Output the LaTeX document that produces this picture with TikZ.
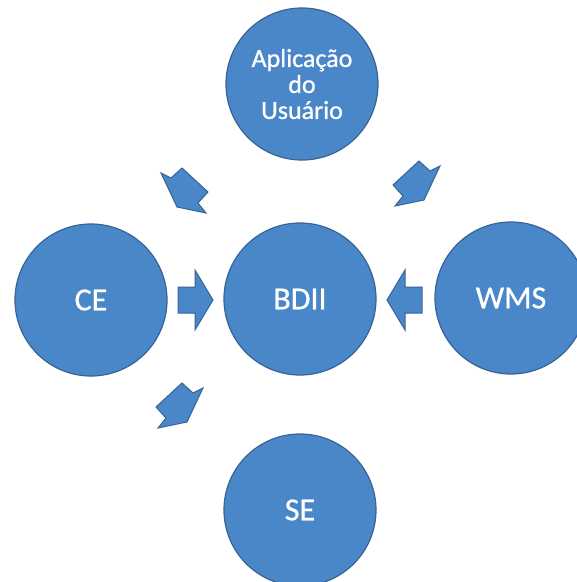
\documentclass[tikz,border=0pt]{standalone}
\usepackage{fontspec}
\setmainfont{Carlito}[FakeBold=0.8]
\newfontfamily\labelfont{Carlito}[FakeBold=0.8]
\definecolor{nodeblue}{RGB}{74,135,201}
\definecolor{edgeblue}{RGB}{56,99,148}
\begin{document}
\begin{tikzpicture}[x=1pt,y=1pt,
  service/.style={circle, draw=edgeblue, line width=1.2pt, fill=nodeblue,
    minimum size=152pt, inner sep=0pt, text=white,
    font=\labelfont\fontsize{32}{36}\selectfont},
  arrowbody/.style={draw=edgeblue, line width=1pt, fill=nodeblue, line join=miter},
  pics/dart/.style={code={
    \draw[arrowbody] (-10,5) -- (0,0) -- (11,10) -- (37,-14) -- (27,-25)
      -- (35,-35) -- (6,-29) -- cycle;}},
  pics/blockarrow/.style={code={
    \draw[arrowbody] (0,13) -- (17,13) -- (17,30) -- (35,0) -- (17,-30)
      -- (17,-13) -- (0,-13) -- cycle;}}
]
\fill[white] (0,0) rectangle (577,-582);
\useasboundingbox (0,0) rectangle (577,-582);

% the five services
\node[service, align=center, font=\labelfont\fontsize{26}{26}\selectfont]
  (app) at (302,-84) {Aplicação\\do\\Usuário};
\node[service] (ce)   at (91,-300)  {CE};
\node[service] (bdii) at (300,-299) {BDII};
\node[service] (wms)  at (511,-298) {WMS};
\node[service] (se)   at (300,-510) {SE};

% block arrows between them
\pic (cearrow)  at (178,-300) {blockarrow};
\pic[xscale=-1] (wmsarrow) at (422,-300) {blockarrow};
\pic (tlarrow) at (171,-178) {dart};
\pic[xscale=-1] (trarrow) at (430,-171) {dart};
\pic[xscale=-1] (blarrow) at (193,-393) {dart};
\end{tikzpicture}
\end{document}
